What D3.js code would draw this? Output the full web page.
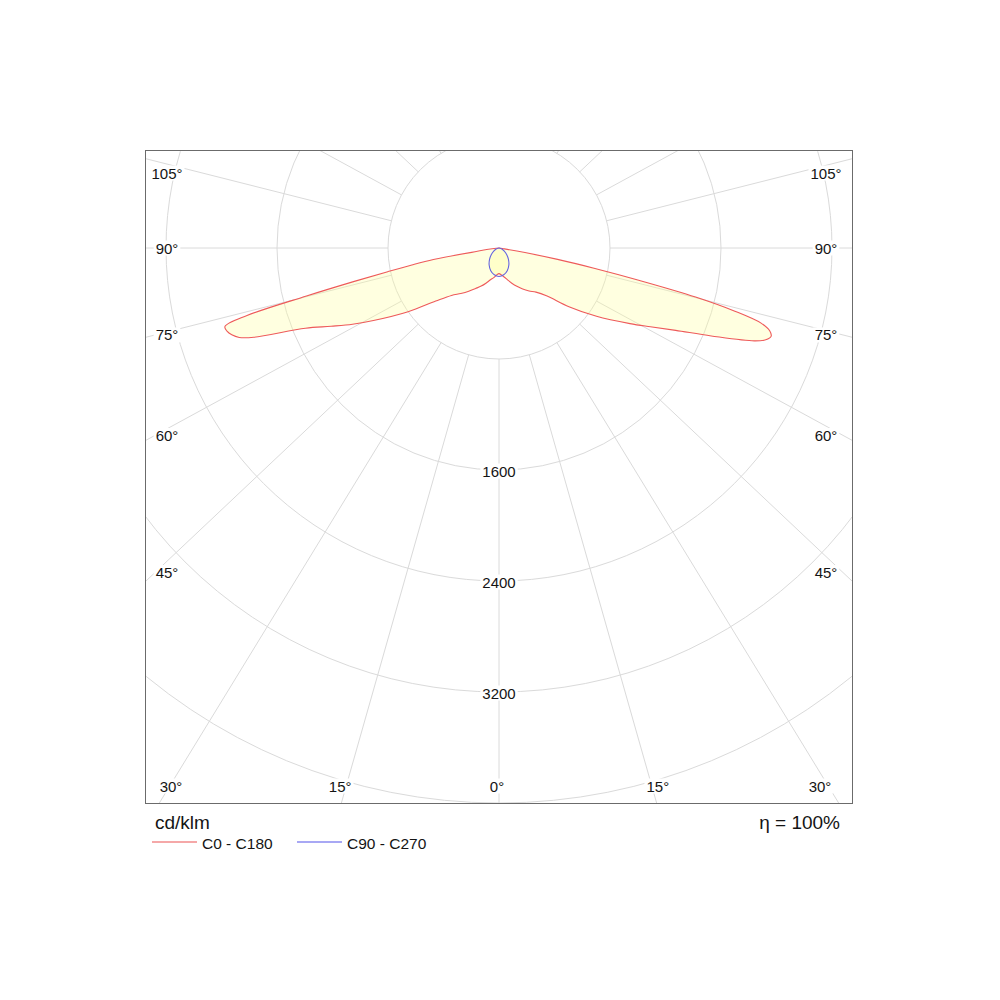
<!DOCTYPE html>
<html>
<head>
<meta charset="utf-8">
<script src="https://cdn.jsdelivr.net/npm/d3@7"></script>
<style>
  body { margin: 0; background: #fff; }
  svg { display: block; }
  text { font-family: "Liberation Sans", Arial, sans-serif; fill: #141414; }
</style>
</head>
<body>
<div id="chart"></div>
<script>
// gamma angles (deg from nadir) for the C0 / C180 plane
const gammaAngles = [0, 5, 10, 15, 20, 25, 30, 35, 40, 45, 50, 55, 60, 62.5, 65, 67.5,
  70, 71, 72, 73, 74, 75, 76, 77, 78, 79, 80, 81, 82, 85, 90];
const c0Values = [185, 195, 212, 238, 270, 305, 342, 378, 415, 490, 658, 858, 1090, 1230, 1405, 1656,
  1958, 2033, 2062, 2040, 1965, 1760, 1460, 1040, 700, 430, 190, 40, 0, 0, 0];
const c180Values = [188, 195, 217, 237, 268, 303, 337, 380, 428, 484, 595, 800, 1045, 1190, 1335, 1510,
  1880, 1980, 2025, 2050, 2055, 1880, 1430, 1070, 820, 640, 480, 200, 0, 0, 0];

// C90 / C270 plane
const gammaAnglesC90 = [0, 10, 20, 30, 40, 50, 60, 70, 80, 90];
const c90Values = [205, 196, 174, 142, 106, 72, 44, 22, 7, 0];
const c270Values = [205, 196, 174, 142, 106, 72, 44, 22, 7, 0];

const ringValues = [800, 1600, 2400, 3200, 4000];
const ringLabels = [1600, 2400, 3200];
const spokeAngles = [0, 15, 30, 45, 60, 75, 90, 105, 120, 135, 150, 165, 180];
const sideLabelAngles = [105, 90, 75, 60, 45];
const bottomLabelAngles = [30, 15, 0];
const unitLabel = "cd/klm";
const effLabel = "η = 100%";
const seriesNames = ["C0 - C180", "C90 - C270"];

const width = 1000, height = 1000;
const frame = { x0: 145, y0: 150, x1: 852, y1: 803 };
const cx = 499, cy = 248;
const skew = 1.06;   // spokes in the original are drawn slightly wide of the true angle
const rad = d => d * Math.PI / 180;

const r = d3.scaleLinear().domain([0, 4000]).range([0, 555]);

const svg = d3.select("#chart").append("svg")
  .attr("width", width)
  .attr("height", height);

svg.append("defs").append("clipPath").attr("id", "clip")
  .append("rect")
  .attr("x", frame.x0).attr("y", frame.y0)
  .attr("width", frame.x1 - frame.x0).attr("height", frame.y1 - frame.y0);

const plot = svg.append("g").attr("clip-path", "url(#clip)");
const g = plot.append("g").attr("transform", `translate(${cx},${cy})`);

// rings
g.selectAll("circle.ring")
  .data(ringValues)
  .join("circle")
  .attr("class", "ring")
  .attr("r", d => r(d))
  .attr("fill", "none")
  .attr("stroke", "#dadada")
  .attr("stroke-width", 1);

// spokes, both halves, starting at the first ring
function spokeDir(gam, side) {
  const dx = skew * Math.sin(rad(gam)) * side, dy = Math.cos(rad(gam));
  const n = Math.hypot(dx, dy);
  return [dx / n, dy / n];
}
const spokes = [];
[1, -1].forEach(side => spokeAngles.forEach(a => {
  if (side === -1 && (a === 0 || a === 180)) return;
  spokes.push({ a, side });
}));
const r0 = r(ringValues[0]);
g.selectAll("line.spoke")
  .data(spokes)
  .join("line")
  .attr("class", "spoke")
  .attr("x1", d => spokeDir(d.a, d.side)[0] * r0)
  .attr("y1", d => spokeDir(d.a, d.side)[1] * r0)
  .attr("x2", d => spokeDir(d.a, d.side)[0] * 1400)
  .attr("y2", d => spokeDir(d.a, d.side)[1] * 1400)
  .attr("stroke", "#dadada")
  .attr("stroke-width", 1);

// intensity curves
function planePoints(gammas, right, left) {
  const pts = gammas.map((gm, i) => ({ a: Math.PI - rad(gm), v: right[i] }));
  for (let i = gammas.length - 1; i > 0; i--) pts.push({ a: Math.PI + rad(gammas[i]), v: left[i] });
  return pts.filter((p, i) => !(p.v === 0 && i > 0 && pts[i - 1].v === 0));
}
const radial = d3.lineRadial()
  .angle(d => d.a)
  .radius(d => r(d.v))
  .curve(d3.curveCatmullRomClosed.alpha(0.5));

const planes = [
  { pts: planePoints(gammaAngles, c0Values, c180Values), stroke: "#ee5a5a" },
  { pts: planePoints(gammaAnglesC90, c90Values, c270Values), stroke: "#6464e0" }
];
g.selectAll("path.fill")
  .data(planes)
  .join("path")
  .attr("class", "fill")
  .attr("d", d => radial(d.pts))
  .attr("fill", "#ffff99")
  .attr("fill-opacity", 0.3)
  .attr("stroke", "none");
g.selectAll("path.curve")
  .data(planes)
  .join("path")
  .attr("class", "curve")
  .attr("d", d => radial(d.pts))
  .attr("fill", "none")
  .attr("stroke", d => d.stroke)
  .attr("stroke-width", 1.1);

// labels with white boxes
const labels = svg.append("g");
function boxedLabel(x, y, txt) {
  const grp = labels.append("g");
  const t = grp.append("text")
    .attr("x", x).attr("y", y)
    .attr("text-anchor", "middle")
    .attr("dominant-baseline", "central")
    .style("font-size", "15px")
    .text(txt);
  const b = t.node().getBBox();
  grp.insert("rect", "text")
    .attr("x", b.x - 2).attr("y", b.y + 1)
    .attr("width", b.width + 4).attr("height", b.height - 2)
    .attr("fill", "#fff");
}

ringLabels.forEach(v => boxedLabel(cx, cy + r(v) + 1, String(v)));

sideLabelAngles.forEach(a => {
  const t = Math.tan(rad(a));
  const dy = Math.abs(t) > 1e6 ? 0 : 344 / (skew * t);
  const y = Math.max(frame.y0 + 23, cy + dy);
  boxedLabel(frame.x0 + 22, y, a + "°");
  boxedLabel(frame.x1 - 26, y, a + "°");
});

bottomLabelAngles.forEach(a => {
  const y = frame.y1 - 17;
  const dx = (y - cy) * skew * Math.tan(rad(a));
  if (a === 0) { boxedLabel(cx - 2, y, "0°"); return; }
  [-1, 1].forEach(s => {
    const x = Math.min(frame.x1 - 32, Math.max(frame.x0 + 26, cx + s * (dx + 6)));
    boxedLabel(x, y, a + "°");
  });
});

// frame
svg.append("rect")
  .attr("x", frame.x0 + 0.5).attr("y", frame.y0 + 0.5)
  .attr("width", frame.x1 - frame.x0).attr("height", frame.y1 - frame.y0)
  .attr("fill", "none")
  .attr("stroke", "#6b6b6b")
  .attr("stroke-width", 1);

// footer
svg.append("text")
  .attr("x", 155).attr("y", 829)
  .style("font-size", "19px")
  .text(unitLabel);
svg.append("text")
  .attr("x", 840).attr("y", 829)
  .attr("text-anchor", "end")
  .style("font-size", "19px")
  .text(effLabel);

const legendColors = ["#f5a8a8", "#a8a8f4"];
const legendX = [152, 297];
seriesNames.forEach((name, i) => {
  svg.append("line")
    .attr("x1", legendX[i]).attr("x2", legendX[i] + 45)
    .attr("y1", 842).attr("y2", 842)
    .attr("stroke", legendColors[i])
    .attr("stroke-width", 2);
  svg.append("text")
    .attr("x", legendX[i] + 50).attr("y", 849)
    .style("font-size", "15.5px")
    .text(name);
});
</script>
</body>
</html>
